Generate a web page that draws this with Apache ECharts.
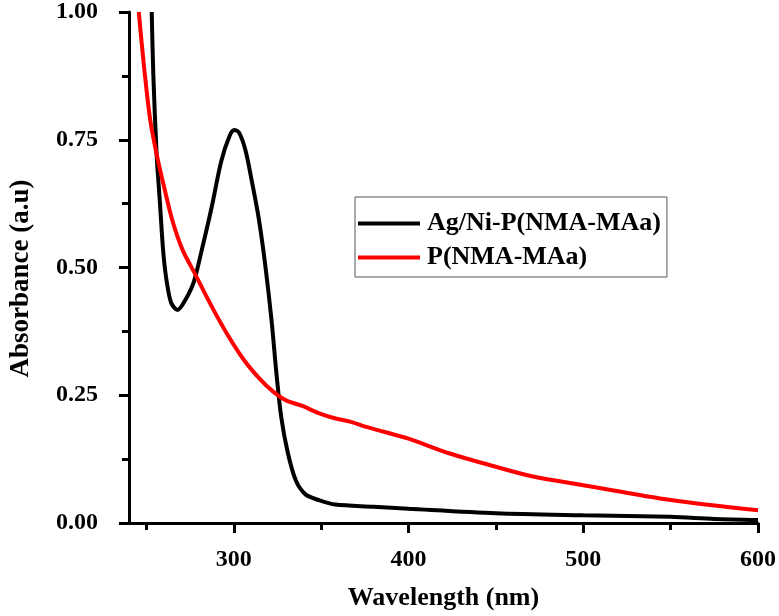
<!DOCTYPE html>
<html>
<head>
<meta charset="utf-8">
<script src="https://cdn.jsdelivr.net/npm/echarts@6/dist/echarts.min.js"></script>
<style>html,body{margin:0;padding:0;background:#fff}#c{width:779px;height:616px}</style>
</head>
<body>
<div id="c"></div>
<script>
// Ag/Ni-P(NMA-MAa) : wavelength (nm), absorbance
const agWave = [253.0,253.9,255.8,257.6,259.5,261.3,264.1,267.8,272.4,277.1,281.7,287.3,292.8,297.5,300.3,303.0,306.7,310.4,314.2,317.9,321.6,324.4,327.1,330.8,335.5,341.0,348.5,358,380,400,450,500,550,575,600];
const agAbs  = [1.00,0.88,0.722,0.632,0.535,0.479,0.431,0.417,0.4375,0.472,0.535,0.618,0.708,0.757,0.769,0.764,0.729,0.667,0.597,0.507,0.396,0.292,0.208,0.139,0.083,0.056,0.045,0.036,0.032,0.028,0.019,0.015,0.012,0.008,0.006];
// P(NMA-MAa)
const pWave = [245.6,248.3,252.0,255.8,260.4,265.0,270.6,278.0,287.3,296.5,305.8,315.1,322.5,329.9,339.2,348.5,357.7,367.0,376.3,386.4,400,423.6,450,471.2,500,550,600];
const pAbs  = [1.00,0.903,0.792,0.722,0.653,0.590,0.535,0.486,0.424,0.368,0.319,0.281,0.257,0.240,0.229,0.215,0.205,0.198,0.1875,0.178,0.165,0.136,0.110,0.091,0.074,0.045,0.025];
const seriesNames = ['Ag/Ni-P(NMA-MAa)', 'P(NMA-MAa)'];
const xMajorTicks = [300,400,500,600];
const xMinorTicks = [250,350,450,550];

const font = 'Liberation Serif, Times New Roman, serif';
const chart = echarts.init(document.getElementById('c'));
const zip = (a,b) => a.map((v,i)=>[v,b[i]]);
chart.setOption({
  backgroundColor:'#fff',
  animation:false,
  grid:{left:122,right:21,top:11,bottom:91},
  legend:{
    orient:'vertical', left:355, top:197,
    backgroundColor:'#fff', borderColor:'#555', borderWidth:1,
    padding:[11,6,4,3], itemGap:3,
    itemWidth:62, itemHeight:4, icon:'rect',
    textStyle:{fontFamily:font,fontWeight:'bold',fontSize:26,color:'#000',padding:[0,0,0,2],lineHeight:31},
    data:seriesNames
  },
  xAxis:[{
    type:'value', min:240, max:600,
    name:'Wavelength (nm)', nameLocation:'middle', nameGap:62,
    nameTextStyle:{fontFamily:font,fontWeight:'bold',fontSize:26,color:'#000'},
    axisLine:{show:true,onZero:false,lineStyle:{color:'#000',width:3}},
    axisTick:{show:true,customValues:xMajorTicks,length:10,lineStyle:{color:'#000',width:3}},
    axisLabel:{customValues:xMajorTicks,margin:25,fontFamily:font,fontWeight:'bold',fontSize:24,color:'#000'},
    splitLine:{show:false}
  },{
    type:'value', min:240, max:600, position:'bottom',
    axisLine:{show:false},
    axisTick:{show:true,customValues:xMinorTicks,length:7,lineStyle:{color:'#000',width:3}},
    axisLabel:{show:false},
    splitLine:{show:false}
  }],
  yAxis:{
    type:'value', min:0, max:1, interval:0.25,
    name:'Absorbance (a.u)', nameLocation:'middle', nameGap:94,
    nameTextStyle:{fontFamily:font,fontWeight:'bold',fontSize:27,color:'#000',padding:[0,22,0,0]},
    axisLine:{show:true,lineStyle:{color:'#000',width:3}},
    axisTick:{show:true,length:10,lineStyle:{color:'#000',width:3}},
    minorTick:{show:true,splitNumber:2,length:7,lineStyle:{color:'#000',width:3}},
    axisLabel:{margin:31,fontFamily:font,fontWeight:'bold',fontSize:24,color:'#000',formatter:v=>v.toFixed(2)},
    splitLine:{show:false}
  },
  series:[{
    name:seriesNames[0], type:'line', xAxisIndex:0, data:zip(agWave,agAbs),
    showSymbol:false, symbol:'none', smooth:0.3, clip:true,
    lineStyle:{color:'#000',width:4}, itemStyle:{color:'#000'}
  },{
    name:seriesNames[1], type:'line', xAxisIndex:0, data:zip(pWave,pAbs),
    showSymbol:false, symbol:'none', smooth:0.3, clip:true,
    lineStyle:{color:'#ff0000',width:4}, itemStyle:{color:'#ff0000'}
  }]
});
</script>
</body>
</html>
